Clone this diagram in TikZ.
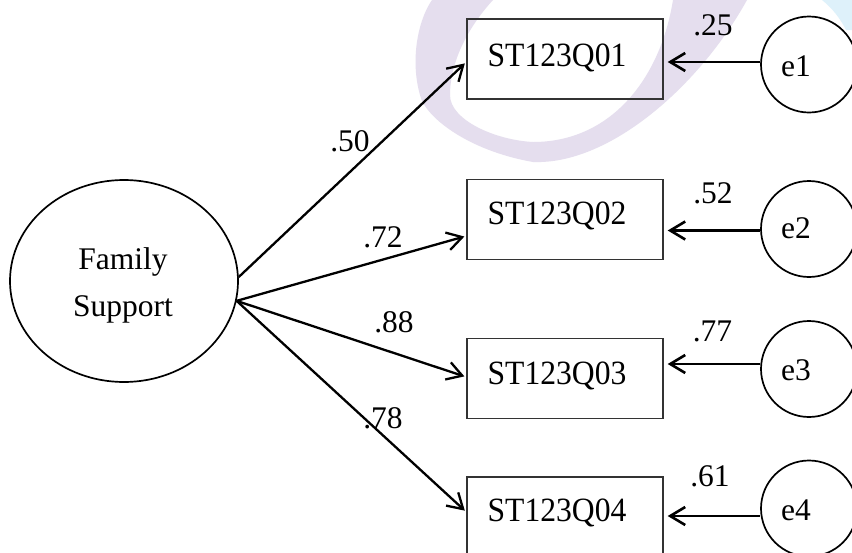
\documentclass[tikz,border=0pt]{standalone}
\usepackage{fontspec}
\setmainfont{Liberation Serif}
\newfontfamily\itemfont[FakeStretch=0.93]{Liberation Serif}
\usetikzlibrary{arrows.meta,shapes.geometric,calc}

\definecolor{wmlav}{RGB}{229,222,238}
\definecolor{wmblue}{RGB}{222,241,250}

\begin{document}
\begin{tikzpicture}[x=1pt,y=-1pt,
  every node/.style={font=\fontsize{31.5}{40}\selectfont},
  latent/.style={draw, ellipse, line width=1.7pt, minimum width=228pt,
    minimum height=202pt, inner sep=0pt},
  indicator/.style={draw=black!80, line width=1.4pt, minimum width=196pt,
    minimum height=80pt, inner sep=0pt},
  errterm/.style={draw, circle, line width=1.7pt, minimum size=96pt, inner sep=0pt},
  txt/.style={anchor=base, inner sep=0pt},
  itemtxt/.style={txt, font=\itemfont\fontsize{34}{40}\selectfont},
  load/.style={line width=2.3pt, -{Straight Barb[length=15pt,width=18pt]}, shorten >=2pt},
  errpath/.style={line width=2.6pt, -{Straight Barb[length=15pt,width=18pt]}, shorten >=4pt},
]
\useasboundingbox (0,0) rectangle (852,552);
\fill[white] (0,0) rectangle (852,552);

% faint background swoosh
\fill[wmlav] (432,0) .. controls (418,20) and (410,60) .. (420,95)
  .. controls (424,115) and (465,150) .. (533,162)
  .. controls (610,165) and (700,85) .. (747,0) -- (673,0)
  .. controls (660,80) and (610,142) .. (533,142)
  .. controls (495,140) and (450,120) .. (450,95)
  .. controls (450,60) and (470,25) .. (493,0) -- cycle;
\fill[wmblue] (822,0) .. controls (832,8) and (840,18) .. (846,30)
  -- (852,30) -- (852,0) -- cycle;

% latent factor
\node[latent] (fs) at (124,281) {};
\node[txt] (fsA) at (123,269) {Family};
\node[txt] (fsB) at (123,316.7) {Support};

% indicators
\node[indicator] (b1) at (565,59) {};
\node[indicator] (b2) at (565,219.5) {};
\node[indicator] (b3) at (565,378.5) {};
\node[indicator] (b4) at (565,517) {};
\node[itemtxt] (t1) at (557,66) {ST123Q01};
\node[itemtxt] (t2) at (557,224) {ST123Q02};
\node[itemtxt] (t3) at (557,384.5) {ST123Q03};
\node[itemtxt] (t4) at (557,521) {ST123Q04};

% error terms
\node[errterm] (e1) at (809,64.5) {};
\node[errterm] (e2) at (809,229) {};
\node[errterm] (e3) at (809,369) {};
\node[errterm] (e4) at (809,508.5) {};
\node[txt] (u1) at (796,76) {e1};
\node[txt] (u2) at (796,238) {e2};
\node[txt] (u3) at (796,380) {e3};
\node[txt] (u4) at (796,520) {e4};

% factor loadings
\draw[load] (fs.2) -- ([yshift=-3pt]b1.west);
\draw[load] (fs.-10) -- ([yshift=-16.5pt]b2.west);
\draw[load] (fs.-10) -- ([yshift=1.5pt]b3.west);
\draw[load] (fs.-10) -- ([yshift=5pt]b4.west);

% error paths
\draw[errpath] ($(e1.west)+(0,-2.5)$) -- ($(e1.west -| b1.east)+(0,-2.5)$);
\draw[errpath] ($(e2.west)+(0,1.5)$) -- ($(e2.west -| b2.east)+(0,1.5)$);
\draw[errpath] ($(e3.west)+(0,-5)$) -- ($(e3.west -| b3.east)+(0,-5)$);
\draw[errpath] ($(e4.west)+(0,7.5)$) -- ($(e4.west -| b4.east)+(0,7.5)$);

% coefficients
\node[txt] (l1) at (350,151) {.50};
\node[txt] (l2) at (383,247) {.72};
\node[txt] (l3) at (394,332.7) {.88};
\node[txt] (l4) at (383,428) {.78};
\node[txt] (r1) at (713,35) {.25};
\node[txt] (r2) at (713,203) {.52};
\node[txt] (r3) at (712.5,341.7) {.77};
\node[txt] (r4) at (710,486.7) {.61};
\end{tikzpicture}
\end{document}
